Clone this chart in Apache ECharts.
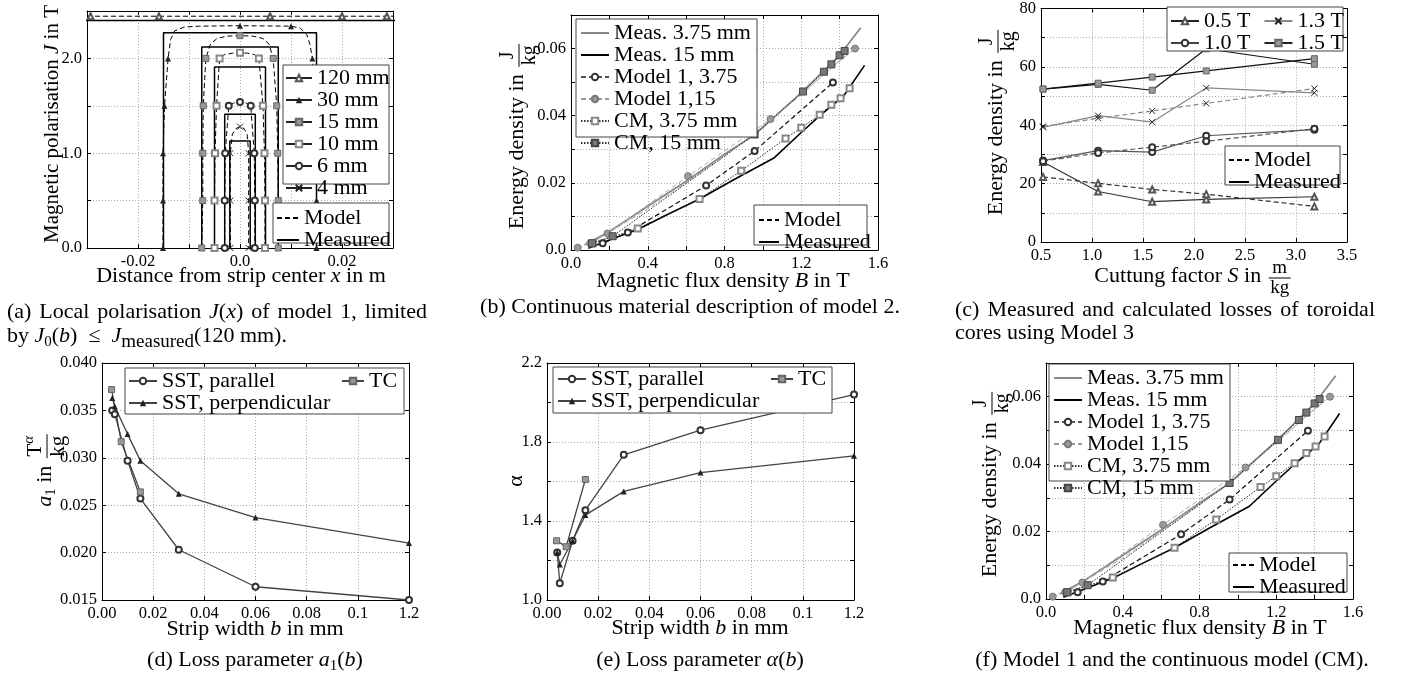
<!DOCTYPE html>
<html><head><meta charset="utf-8">
<script src="https://cdn.jsdelivr.net/npm/echarts@6/dist/echarts.min.js"></script>
<style>html,body{margin:0;padding:0;background:#fff}#c{width:1403px;height:677px}</style>
</head><body><div id="c"></div>
<script>
// ---------------- DATA ----------------
// (a) local polarisation J(x); measured plateau per strip width, model curves [x(m), J(T), marker]
const aStripMM = [120, 30, 15, 10, 6, 4];
const aMeasJ = [2.40, 2.27, 2.12, 1.91, 1.41, 1.13];
const aModel120 = [[-0.03,2.445,0],[-0.0293,2.445,1],[-0.0159,2.445,1],[0.0059,2.445,1],[0.0200,2.445,1],[0.0288,2.445,1],[0.03,2.445,0]];
const aModel30 = [[-0.0151,0,1],[-0.0151,0.5,1],[-0.0151,1.0,1],[-0.0148,1.5,1],[-0.0141,2.0,1],[-0.0136,2.2,0],[-0.0128,2.29,0],[-0.011,2.33,0],[-0.008,2.34,0],[0,2.345,1],[0.0100,2.34,1],[0.0118,2.32,0],[0.0131,2.25,0],[0.0137,2.15,0],[0.0142,2.0,1],[0.0148,1.5,1],[0.015,1.0,1],[0.015,0.5,1],[0.015,0,1]];
const aModel15 = [[-0.0075,0,1],[-0.0073,0.5,1],[-0.0073,1.0,1],[-0.0072,1.5,1],[-0.0067,2.0,1],[-0.0058,2.15,0],[-0.0045,2.21,0],[-0.0025,2.235,0],[0,2.24,1],[0.0025,2.235,0],[0.0045,2.21,0],[0.0057,2.15,0],[0.0065,2.0,1],[0.0072,1.5,1],[0.0074,1.0,1],[0.0075,0.5,1],[0.0075,0,1]];
const aModel10 = [[-0.005,0,1],[-0.005,0.5,1],[-0.0049,1.0,1],[-0.0046,1.5,1],[-0.0040,2.0,1],[-0.003,2.04,0],[-0.0015,2.055,0],[0,2.06,1],[0.0015,2.055,0],[0.0028,2.04,0],[0.0037,2.0,1],[0.0045,1.5,1],[0.0048,1.0,1],[0.0049,0.5,1],[0.0049,0,1]];
const aModel6 = [[-0.003,0,1],[-0.003,0.5,1],[-0.0029,1.0,1],[-0.0022,1.5,1],[-0.0012,1.53,0],[0,1.54,1],[0.0012,1.53,0],[0.0021,1.5,1],[0.0028,1.0,1],[0.0029,0.5,1],[0.0029,0,1]];
const aModel4 = [[-0.0019,0,1],[-0.0019,0.5,1],[-0.0019,1.0,1],[-0.0015,1.2,0],[-0.0008,1.26,0],[0,1.28,1],[0.0008,1.26,0],[0.0014,1.2,0],[0.0017,1.0,1],[0.0017,0.5,1],[0.0017,0,1]];
// (b)/(f) energy density vs B  [B(T), E(J/kg), marker]
const bMeas375 = [[0.07,0.0015],[0.2,0.0055],[0.4,0.013],[0.6,0.0205],[0.8,0.0285],[0.96,0.0345],[1.2,0.0468],[1.4,0.058],[1.51,0.0662]];
const bMeas15 = [[0.09,0.0005],[0.2,0.003],[0.35,0.0062],[0.5,0.0105],[0.67,0.0152],[0.85,0.021],[1.06,0.0275],[1.2,0.035],[1.3,0.0402],[1.42,0.0458],[1.53,0.055]];
const bModA = [[0.1,0.001,0],[0.165,0.002,1],[0.296,0.0052,1],[0.704,0.0192,1],[0.957,0.0295,1],[1.365,0.0499,1]];
const bModB = [[0.035,0.0007,1],[0.1,0.002,1],[0.19,0.0049,1],[0.61,0.022,1],[1.04,0.039,1],[1.48,0.060,1]];
const bModC = [[0.1,0.0018,0],[0.4,0.0122,0],[0.8,0.0278,0],[1.2,0.0462,0],[1.43,0.058,0]];
const bCM375 = [[0.113,0.002,1],[0.348,0.0064,1],[0.67,0.0152,1],[0.887,0.0236,1],[1.118,0.0332,1],[1.2,0.0364,1],[1.296,0.0403,1],[1.357,0.0433,1],[1.405,0.0452,1],[1.452,0.0482,1]];
const bCM15 = [[0.11,0.002,1],[0.217,0.0041,1],[0.957,0.0344,1],[1.209,0.0472,1],[1.318,0.0531,1],[1.357,0.0553,1],[1.4,0.058,1],[1.426,0.0593,1]];
// (c) toroidal cores
const cS = [0.52, 1.06, 1.59, 2.12, 3.18];
const c05Meas = [27.4, 17.3, 13.8, 14.6, 15.5];
const c05Mod  = [22.3, 20.1, 18.0, 16.4, 12.2];
const c10Meas = [27.9, 31.3, 30.8, 36.4, 38.5];
const c10Mod  = [27.7, 30.5, 32.5, 34.5, 38.8];
const c13Meas = [39.3, 43.3, 41.1, 52.8, 51.1];
const c13Mod  = [39.6, 42.4, 44.9, 47.5, 52.6];
const c15Meas = [52.4, 54.0, 52.0, 66.2, 60.9];
const c15Mod  = [52.4, 54.4, 56.5, 58.6, 62.8];
// (d)/(e) loss parameters
const sstB = [0.004, 0.005, 0.01, 0.015, 0.03, 0.06, 0.12];
const tcB = [0.00375, 0.0075, 0.015];
const dPar  = [0.0350, 0.0346, 0.0297, 0.0257, 0.0203, 0.0164, 0.0150];
const dPerp = [0.0363, 0.0354, 0.0325, 0.0297, 0.0262, 0.0237, 0.0210];
const dTC   = [0.0372, 0.0317, 0.0264];
const ePar  = [1.24, 1.085, 1.30, 1.455, 1.735, 1.86, 2.04];
const ePerp = [1.24, 1.18, 1.30, 1.43, 1.55, 1.645, 1.73];
const eTC   = [1.30, 1.27, 1.61];
// tick labels
const aXLabels = ['', '-0.02', '', '0.0', '', '0.02', ''];
const aYLabels = ['0.0', '', '1.0', '', '2.0', ''];
const bfXLabels = ['0.0', '', '0.4', '', '0.8', '', '1.2', '', '1.6'];
const bfYLabels = ['0.0', '', '0.02', '', '0.04', '', '0.06', ''];
const cXLabels = ['0.5', '1.0', '1.5', '2.0', '2.5', '3.0', '3.5'];
const cYLabels = ['0', '', '20', '', '40', '', '60', '', '80'];
const deXLabels = ['0.00', '0.02', '0.04', '0.06', '0.08', '0.1', '1.2'];
const dYLabels = ['0.015', '0.020', '0.025', '0.030', '0.035', '0.040'];
const eYLabels = ['1.0', '', '1.4', '', '1.8', '', '2.2'];

// ---------------- LAYOUT / STYLE ----------------
const FF = 'Liberation Serif, DejaVu Serif, serif';
const GRIDS = [[87,11,306,237],[571,15,307,235],[1041,6,306,236],[102,363,307,237],[547,363,307,237],[1046,363,307,236]];
const AX = [
  {x:{min:-0.03,max:0.03,interval:0.01,labels:aXLabels}, y:{min:0,max:2.5,interval:0.5,labels:aYLabels}},
  {x:{min:0,max:1.6,interval:0.2,labels:bfXLabels}, y:{min:0,max:0.07,interval:0.01,labels:bfYLabels}},
  {x:{min:0.5,max:3.5,interval:0.5,labels:cXLabels}, y:{min:0,max:80,interval:10,labels:cYLabels}},
  {x:{min:0,max:0.12,interval:0.02,labels:deXLabels}, y:{min:0.015,max:0.04,interval:0.005,labels:dYLabels}},
  {x:{min:0,max:0.12,interval:0.02,labels:deXLabels}, y:{min:1.0,max:2.2,interval:0.2,labels:eYLabels}},
  {x:{min:0,max:1.6,interval:0.2,labels:bfXLabels}, y:{min:0,max:0.07,interval:0.01,labels:bfYLabels}}
];
function mkAxis(gi, spec, pos, main){
  return {type:'value', gridIndex:gi, position:pos, min:spec.min, max:spec.max, interval:spec.interval,
    axisLine:{show:true,onZero:false,lineStyle:{color:'#000',width:1}},
    axisTick:{show:true,inside:true,length:4,lineStyle:{color:'#000',width:1}},
    splitLine:{show:main,lineStyle:{color:'#aaa',width:1,type:[1,2]}},
    axisLabel:{show:main,color:'#000',fontFamily:FF,fontSize:16.5,margin:5,showMinLabel:true,showMaxLabel:true,
      formatter:(v)=>{const k=Math.round((v-spec.min)/spec.interval);return spec.labels[k]!==undefined?spec.labels[k]:'';}}
  };
}
const xAxis=[], yAxis=[];
AX.forEach((a,gi)=>{
  xAxis.push(mkAxis(gi,a.x,'bottom',true)); xAxis.push(mkAxis(gi,a.x,'top',false));
  yAxis.push(mkAxis(gi,a.y,'left',true)); yAxis.push(mkAxis(gi,a.y,'right',false));
});

const mk = {
  triO:{symbol:'emptyTriangle',symbolSize:6,itemStyle:{color:'#555',borderColor:'#555',borderWidth:1}},
  triF:{symbol:'triangle',symbolSize:6,itemStyle:{color:'#222'}},
  sqG:{symbol:'rect',symbolSize:6,itemStyle:{color:'#999',borderColor:'#666',borderWidth:1}},
  sqO:{symbol:'emptyRect',symbolSize:6,itemStyle:{color:'#888',borderColor:'#888',borderWidth:1}},
  sqD:{symbol:'rect',symbolSize:7,itemStyle:{color:'#777',borderColor:'#444',borderWidth:1}},
  cirO:{symbol:'emptyCircle',symbolSize:6,itemStyle:{color:'#333',borderColor:'#333',borderWidth:1}},
  cirG:{symbol:'circle',symbolSize:7,itemStyle:{color:'#999',borderColor:'#777',borderWidth:1}},
  cross:{symbol:'path://M0,0L10,10M10,0L0,10',symbolSize:6,itemStyle:{color:'#222',borderColor:'#222',borderWidth:1}},
  none:{symbol:'none'}
};
const solid=(c,w)=>({color:c,width:w||1.2,type:'solid'});
const dash=(c,w)=>({color:c,width:w||1,type:[5,3]});
const dot=(c,w)=>({color:c,width:w||1,type:[1.5,1.5]});
const pts = arr => arr.map(p => (p[2]===0) ? {value:[p[0],p[1]],symbol:'none'} : [p[0],p[1]]);
function ser(gi,name,data,line,m){
  const s = {type:'line',name,xAxisIndex:2*gi,yAxisIndex:2*gi,data,lineStyle:line,color:line.color,
    showSymbol:true,emphasis:{disabled:true},silent:true,z:3,animation:false};
  return Object.assign(s, JSON.parse(JSON.stringify(m)));
}
const series=[];
// (a)
const aModels=[aModel120,aModel30,aModel15,aModel10,aModel6,aModel4];
const aMarks=[mk.triO,mk.triF,mk.sqG,mk.sqO,mk.cirO,mk.cross];
aStripMM.forEach((mm,i)=>{
  const h=mm/2000, J=aMeasJ[i];
  series.push(ser(0,'aMeas'+mm,[[-h,0],[-h,J],[h,J],[h,0]],solid('#000',1.5),mk.none));
  series.push(ser(0,'aMod'+mm,pts(aModels[i]),dash('#000',1),aMarks[i]));
});
// (b) and (f)
[1,5].forEach(gi=>{
  series.push(ser(gi,'bMeas375',bMeas375,solid('#888',1.8),mk.none));
  series.push(ser(gi,'bMeas15',bMeas15,solid('#000',1.6),mk.none));
  series.push(ser(gi,'bModC',pts(bModC),dash('#aaa',1),mk.none));
  series.push(ser(gi,'bModB',pts(bModB),dash('#aaa',1),mk.cirG));
  series.push(ser(gi,'bModA',pts(bModA),dash('#111',1.2),mk.cirO));
  series.push(ser(gi,'bCM375',pts(bCM375),dot('#222',1),mk.sqO));
  series.push(ser(gi,'bCM15',pts(bCM15),dot('#222',1),mk.sqD));
});
// (c)
const cz = arr => cS.map((s,i)=>[s,arr[i]]);
series.push(ser(2,'c05m',cz(c05Meas),solid('#333',1.2),mk.triO));
series.push(ser(2,'c05d',cz(c05Mod),dash('#333',1.2),mk.triO));
series.push(ser(2,'c10m',cz(c10Meas),solid('#555',1.2),mk.cirO));
series.push(ser(2,'c10d',cz(c10Mod),dash('#555',1.2),mk.cirO));
series.push(ser(2,'c13m',cz(c13Meas),solid('#888',1.2),mk.cross));
series.push(ser(2,'c13d',cz(c13Mod),dash('#888',1.2),mk.cross));
series.push(ser(2,'c15m',cz(c15Meas),solid('#111',1.2),mk.sqG));
series.push(ser(2,'c15d',cz(c15Mod),solid('#111',1.2),mk.sqG));
// (d), (e)
const zb=(b,v)=>b.map((x,i)=>[x,v[i]]);
series.push(ser(3,'dPar',zb(sstB,dPar),solid('#444',1.3),mk.cirO));
series.push(ser(3,'dPerp',zb(sstB,dPerp),solid('#444',1.3),mk.triF));
series.push(ser(3,'dTC',zb(tcB,dTC),solid('#444',1.3),mk.sqG));
series.push(ser(4,'ePar',zb(sstB,ePar),solid('#444',1.3),mk.cirO));
series.push(ser(4,'ePerp',zb(sstB,ePerp),solid('#444',1.3),mk.triF));
series.push(ser(4,'eTC',zb(tcB,eTC),solid('#444',1.3),mk.sqG));
// legend-only series
const LEG = [
  ['120 mm',solid('#222',1.5),mk.triO],['30 mm',solid('#222',1.5),mk.triF],['15 mm',solid('#222',1.5),mk.sqG],
  ['10 mm',solid('#222',1.5),mk.sqO],['6 mm',solid('#222',1.5),mk.cirO],['4 mm',solid('#222',1.5),mk.cross],
  ['Model',dash('#000',1.2),mk.none],['Measured',solid('#000',2),mk.none],
  ['Meas. 3.75 mm',solid('#888',2),mk.none],['Meas. 15 mm',solid('#000',2),mk.none],
  ['Model 1, 3.75',dash('#555',1),mk.cirO],['Model 1,15',dash('#999',1),mk.cirG],
  ['CM, 3.75 mm',dot('#333',1),mk.sqO],['CM, 15 mm',dot('#333',1),mk.sqD],
  ['0.5 T',solid('#222',1.5),mk.triO],['1.0 T',solid('#444',1.5),mk.cirO],['1.3 T',solid('#888',1.5),mk.cross],['1.5 T',solid('#222',1.5),mk.sqG],
  ['SST, parallel',solid('#444',1.5),mk.cirO],['SST, perpendicular',solid('#444',1.5),mk.triF],['TC',solid('#444',1.5),mk.sqG]
];
LEG.forEach(l=>series.push(ser(0,l[0],[],l[1],l[2])));
const NOSYM = ['Model','Measured','Meas. 3.75 mm','Meas. 15 mm'];
function L(names,left,top,o){
  return Object.assign({show:true,data:names.map(n=>NOSYM.includes(n)?{name:n,itemStyle:{opacity:0}}:{name:n}),
    left,top,orient:'vertical',itemGap:0,itemWidth:28,itemHeight:8,padding:0,selectedMode:false,
    backgroundColor:'transparent',borderWidth:0,z:20,
    textStyle:{fontFamily:FF,fontSize:22,color:'#000',lineHeight:19}},o||{});
}
const lt = lh => ({fontFamily:FF,fontSize:22,color:'#000',lineHeight:lh});
const legend = [
  L(['120 mm','30 mm','15 mm','10 mm','6 mm','4 mm'],285,67,{itemWidth:26,textStyle:lt(19.4)}),
  L(['Model','Measured'],276,207,{itemWidth:22,textStyle:lt(18.3)}),
  L(['Meas. 3.75 mm','Meas. 15 mm','Model 1, 3.75','Model 1,15','CM, 3.75 mm','CM, 15 mm'],580,22,{textStyle:lt(18.3)}),
  L(['Model','Measured'],758,209,{itemWidth:20,textStyle:lt(17.5)}),
  L(['0.5 T','1.3 T'],1170,10,{orient:'horizontal',itemGap:13}),
  L(['1.0 T','1.5 T'],1170,32,{orient:'horizontal',itemGap:13}),
  L(['Model','Measured'],1228,149,{itemWidth:20,textStyle:lt(18.4)}),
  L(['SST, parallel','SST, perpendicular'],128,370,{textStyle:lt(21)}),
  L(['TC'],341,370,{itemWidth:22}),
  L(['SST, parallel','SST, perpendicular'],557,368,{textStyle:lt(20)}),
  L(['TC'],770,368,{itemWidth:22}),
  L(['Meas. 3.75 mm','Meas. 15 mm','Model 1, 3.75','Model 1,15','CM, 3.75 mm','CM, 15 mm'],1053,367,{textStyle:lt(18.5)}),
  L(['Model','Measured'],1232,554,{itemWidth:21,textStyle:lt(19)})
];

// ---------------- TEXT (graphic) ----------------
const mc = document.createElement('canvas').getContext('2d');
const fontStr=(sz,it)=>(it?'italic ':'normal ')+sz+'px '+FF;
function tw(t,sz,it){mc.font=fontStr(sz,it);return mc.measureText(t).width;}
function segStyle(k,FS){
  const sub=k==='s'||k==='si'||k==='S', sup=k==='p'||k==='pi';
  const f = k==='S'?0.88:0.7;
  return {sz:(sub||sup)?Math.round(FS*f):FS, it:(k==='i'||k==='si'||k==='pi'), dy: sub?0.28*FS:(sup?-0.3*FS:0)};
}
function layout(segs,FS){
  let x=0; const items=[];
  for(const s of segs){
    if(s.frac){
      const fs=s.fs||Math.round(FS*0.85);
      const n=layout(s.frac[0],fs), d=layout(s.frac[1],fs);
      const w=Math.max(n.w,d.w)+3;
      items.push({frac:true,x:x+2,w,n,d,fs}); x+=w+3;
    } else {
      const st=segStyle(s[1]||'n',FS);
      items.push(Object.assign({x,t:s[0]},st)); x+=tw(s[0],st.sz,st.it);
    }
  }
  return {w:x,items};
}
function txt(x,y,t,sz,it){
  return {type:'text',x,y,z:30,silent:true,style:{text:t,font:fontStr(sz,it),fill:'#000',
    textAlign:'left',textVerticalAlign:'middle',align:'left',verticalAlign:'middle'}};
}
function emit(lay,x0,y0,out){
  for(const it of lay.items){
    if(it.frac){
      const by=y0+2;
      emit(it.n,x0+it.x+(it.w-it.n.w)/2,by-0.55*it.fs,out);
      emit(it.d,x0+it.x+(it.w-it.d.w)/2,by+0.55*it.fs,out);
      out.push({type:'line',z:30,silent:true,shape:{x1:x0+it.x,y1:by,x2:x0+it.x+it.w,y2:by},style:{stroke:'#000',lineWidth:1}});
    } else out.push(txt(x0+it.x,y0+it.dy,it.t,it.sz,it.it));
  }
}
const GR=[];
const FS=22;
function htitle(cx,cy,segs,fs){const l=layout(segs,fs||FS);emit(l,cx-l.w/2,cy,GR);}
function ltext(x,y,segs,fs){const l=layout(segs,fs||FS);emit(l,x,y,GR);}
function vtitle(cx,cy,segs,fs){const l=layout(segs,fs||FS);const ch=[];emit(l,-l.w/2,0,ch);
  GR.push({type:'group',x:cx,y:cy,rotation:Math.PI/2,children:ch});}
function justify(x0,x1,y,words,fs){
  const ls=words.map(w=>layout(w,fs||FS)); const tot=ls.reduce((a,l)=>a+l.w,0);
  const gap=(x1-x0-tot)/(ls.length-1); let x=x0;
  ls.forEach(l=>{emit(l,x,y,GR);x+=l.w+gap;});
}
// legend boxes
[[283,65,106,119],[273,203,116,40],[576,19,181,118],[754,205,113,40],[1167,7,176,44],[1225,146,115,39],
 [125,368,279,46],[553,367,279,46],[1049,364,181,117],[1229,553,118,39]].forEach(r=>{
  GR.push({type:'rect',z:5,silent:true,shape:{x:r[0],y:r[1],width:r[2],height:r[3]},style:{fill:'#fff',stroke:'#444',lineWidth:1}});
});
// axis titles
const fracJkg={frac:[[['J']],[['kg']]],fs:20};
htitle(241,276,[['Distance from strip center '],['x','i'],[' in m']]);
vtitle(52,124,[['Magnetic polarisation '],['J','i'],[' in T']],21);
htitle(723,281,[['Magnetic flux density '],['B','i'],[' in T']]);
vtitle(517,136,[['Energy density in '],fracJkg]);
htitle(1193,276,[['Cuttung factor '],['S','i'],[' in '],{frac:[[['m']],[['kg']]],fs:19}]);
vtitle(996,122,[['Energy density in '],fracJkg]);
htitle(255,629,[['Strip width '],['b','i'],[' in mm']]);
vtitle(45,470,[['a','i'],['1','s'],[' in '],{frac:[[['T'],['α','pi']],[['kg']]],fs:21}]);
htitle(700,628,[['Strip width '],['b','i'],[' in mm']]);
vtitle(516,481,[['α']]);
htitle(1200,628,[['Magnetic flux density '],['B','i'],[' in T']]);
vtitle(990,484,[['Energy density in '],fracJkg]);
// captions
justify(7,427,312,[[['(a)']],[['Local']],[['polarisation']],[['J','i'],['('],['x','i'],[')']],[['of']],[['model']],[['1,']],[['limited']]]);
ltext(7,336,[['by '],['J','i'],['0','s'],['('],['b','i'],[')  ≤  '],['J','i'],['measured','S'],['(120 mm).']]);
htitle(690,307,[['(b) Continuous material description of model 2.']]);
justify(955,1375,310,[[['(c)']],[['Measured']],[['and']],[['calculated']],[['losses']],[['of']],[['toroidal']]]);
ltext(955,333,[['cores using Model 3']]);
htitle(255,660,[['(d) Loss parameter '],['a','i'],['1','s'],['('],['b','i'],[')']]);
htitle(700,660,[['(e) Loss parameter '],['α','i'],['('],['b','i'],[')']]);
htitle(1172,660,[['(f) Model 1 and the continuous model (CM).']]);

const option = {
  animation:false,
  textStyle:{fontFamily:FF},
  grid: GRIDS.map(g=>({left:g[0],top:g[1],width:g[2],height:g[3],containLabel:false,show:false})),
  xAxis, yAxis, series, legend,
  graphic:{elements:GR}
};
const chart = echarts.init(document.getElementById('c'),null,{renderer:'canvas'});
chart.setOption(option);
</script></body></html>
